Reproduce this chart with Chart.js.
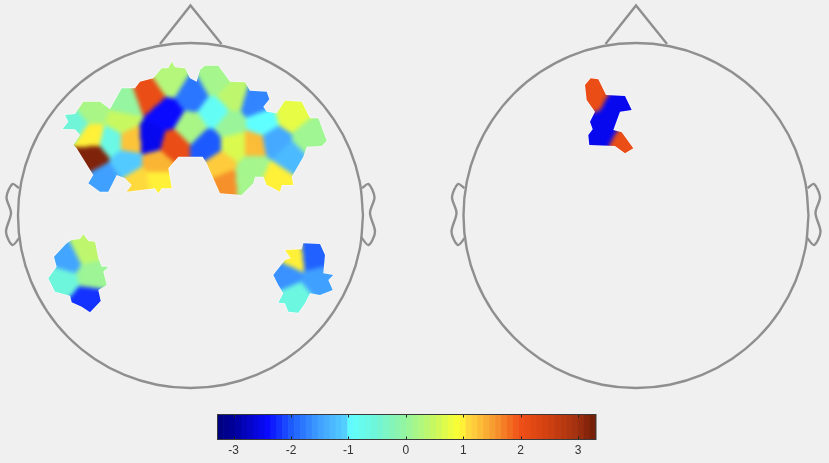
<!DOCTYPE html>
<html>
<head>
<meta charset="utf-8">
<style>
  html, body { margin: 0; padding: 0; background: #f0f0f0; overflow: hidden; }
  canvas { position: absolute; }
</style>
<script src="https://cdn.jsdelivr.net/npm/chart.js@4/dist/chart.umd.min.js"></script>
</head>
<body>
<canvas id="leftHead" width="414" height="410" style="left:0;top:0"></canvas>
<canvas id="rightHead" width="415" height="410" style="left:414px;top:0"></canvas>
<canvas id="colorbar" width="420" height="58" style="left:197px;top:405px"></canvas>
<script>
// head units: origin at head centre, up is positive, head radius is 172.5
const leftCellX = [-20.5, -42, -25.5, -40.5, 1, 24.5, 41, 64.5, 24.5, 101, 119.5, 71, 83, 98, 86, 63, 39.5, -0.5, 16, -17, -34, 44.5, 63, 29.5, 36, 54.5, -99, -65.5, -114, -69, -100.5, -60.5, -79, -99, -64, -87, -52, -34, -122, -105.5, -127, -100.5, -104, 103, 121, 96, 126, 106];
const leftCellY = [135.5, 120.5, 102, 77, 122, 135.5, 119, 112, 104, 102, 79, 94, 74, 57, 39, 49, 92, 87, 70.5, 70.5, 52, 70.5, 70.5, 50.5, 34, 35.5, 104, 112, 90.5, 94, 80.5, 75.5, 75.5, 59, 54, 37, 34, 37, -44.5, -36, -64.5, -58, -84.5, -43, -41, -58, -64.5, -81];
const leftCellValues = [0.3, 2.1, -2.4, -2.5, -1.8, 0.15, 0.4, -1.7, -0.85, 0.75, 0.1, -0.95, -1.4, -1.25, 1, 0.15, 0.05, 0.2, -2, 2.1, 1.35, 0.65, 1.3, 1.2, 1.6, 0.15, 0.2, 0, -0.5, 0.5, 1, 1.25, -0.65, 3.2, -1.1, -1.5, 1.1, 1, -1.45, 0.4, -0.55, 0.08, -2.2, 1, -1.95, -1.6, -1.5, -0.6];

const rightCellX = [-42, -38.7, -13, -9, -16, -27.7, -34.3, -24.3, -40, -30];
const rightCellY = [127, 114.8, 77, 70, 110.5, 108.8, 95.5, 95.5, 80, 86];
const rightCellValues = [2.1, 2.1, 2.1, 2.1, -2.5, -2.5, -2.5, -2.5, -2.5, -2.5];

// outlines of the significant regions
const frontalMaskX = [-18.8, -15.5, -5.5, -0.5, 6.2, 9.5, 14.5, 27.8, 39.5, 54.5, 59.5, 76.2, 78.8, 72.8, 76.2, 86.2, 94.5, 111.2, 119.5, 127.8, 136.2, 131.2, 116.2, 112.8, 101.2, 102.8, 91.2, 89.5, 81.2, 76.2, 72.8, 64.5, 62.8, 52.8, 51.2, 29.5, 16.2, 12.2, -12.2, -22.2, -18.8, -28.8, -32.2, -35.5, -63.8, -58.8, -65.5, -73.8, -82.2, -90.5, -102.2, -97.2, -113.8, -117.2, -110.5, -115.5, -127.8, -122.2, -125.5, -115.5, -107.2, -90.5, -80.5, -68.8, -55.5, -50.5, -37.2, -28.8, -22.2];
const frontalMaskY = [153.8, 148.2, 147.2, 137.2, 133.8, 145.5, 149.8, 149.8, 133.8, 133.2, 124.8, 123.8, 116.2, 108.8, 103.8, 102.2, 114.8, 113.8, 97.2, 97.2, 74.8, 69.5, 68.8, 58.8, 38.8, 30.5, 30.5, 23.8, 28.2, 30.5, 38.8, 38.8, 32.2, 22.2, 20.5, 22.2, 52.2, 58.8, 58.8, 47.2, 27.2, 27.2, 22.2, 27.2, 23.8, 30.5, 37.2, 40.5, 23.8, 23.8, 32.2, 40.5, 67.2, 70.5, 80.5, 86.2, 86.5, 93.8, 100.5, 101.5, 113.8, 113.8, 106.2, 127.2, 127.2, 133.8, 137.2, 147.2, 147.2];
const lowerLeftMaskX = [-107.2, -102.2, -95.5, -92.2, -88.8, -82.2, -87.2, -83.8, -92.2, -89.8, -100.5, -108.8, -118.8, -120.5, -135.5, -142.2, -133.8, -136.5, -123.8, -118.8, -110.5];
const lowerLeftMaskY = [-18.8, -25.5, -26.2, -42.8, -51.2, -51.2, -56.2, -69.5, -74.5, -85.5, -96.8, -91.2, -86.8, -80.2, -76.2, -62.8, -51.2, -41.2, -27.8, -24.5, -23.5];
const lowerRightMaskX = [112.8, 129.5, 134.5, 132.8, 142.8, 137.8, 142.2, 129.5, 119.5, 114.5, 107.8, 97.8, 94.5, 87.8, 92.8, 87.8, 82.8, 94.5, 100.2, 94.5, 111.2];
const lowerRightMaskY = [-27.8, -28.5, -39.5, -57.8, -59.5, -64.5, -74.5, -79.5, -77.8, -87.8, -97.2, -96.2, -87.8, -87.2, -77.8, -69.5, -59.5, -44.5, -42.8, -34.5, -33.8];
const rightMaskX = [-45.3, -37.7, -30, -11, -4.3, -16, -22.7, -14.3, -2.7, -11, -21, -46.7, -47.7, -43.3, -46, -41, -49.3, -51];
const rightMaskY = [137.2, 136.2, 120.5, 119.5, 105.5, 103.8, 85.5, 83.2, 67.2, 62.2, 69.5, 70.5, 80.5, 86.2, 93.8, 103.8, 115.5, 130.5];

const circleX = [172.5, 169.2, 159.4, 143.4, 122, 95.8, 66, 33.7, 0, -33.7, -66, -95.8, -122, -143.4, -159.4, -169.2, -172.5, -169.2, -159.4, -143.4, -122, -95.8, -66, -33.7, 0, 33.7, 66, 95.8, 122, 143.4, 159.4, 169.2, 172.5];
const circleY = [0, 33.7, 66, 95.8, 122, 143.4, 159.4, 169.2, 172.5, 169.2, 159.4, 143.4, 122, 95.8, 66, 33.7, 0, -33.7, -66, -95.8, -122, -143.4, -159.4, -169.2, -172.5, -169.2, -159.4, -143.4, -122, -95.8, -66, -33.7, 0];
const noseX = [-30.5, 0, 31];
const noseY = [171.5, 210, 171.5];
const leftEarX = [-171.5, -178, -184, -179.5, -184.5, -178, -170.5];
const rightEarX = [171.5, 178, 184, 179.5, 184.5, 178, 170.5];
const earY = [27.5, 31.5, 18.5, 2.5, -16.5, -29.5, -21.5];

const colorbarBins = [-3.228, -3.125, -3.022, -2.919, -2.816, -2.713, -2.61, -2.507, -2.404, -2.301, -2.198, -2.095, -1.992, -1.889, -1.786, -1.683, -1.58, -1.477, -1.374, -1.271, -1.168, -1.065, -0.962, -0.859, -0.756, -0.653, -0.55, -0.447, -0.344, -0.241, -0.138, -0.035, 0.068, 0.171, 0.274, 0.377, 0.48, 0.583, 0.686, 0.789, 0.892, 0.995, 1.098, 1.201, 1.304, 1.407, 1.51, 1.613, 1.716, 1.819, 1.922, 2.025, 2.128, 2.231, 2.334, 2.437, 2.54, 2.643, 2.746, 2.849, 2.952, 3.055, 3.158, 3.261];
const colorbarTicks = [-3, -2, -1, 0, 1, 2, 3];

// washed out jet, stops
const stopValues = [-3.3, -3, -2.4, -2, -1.5, -1.05, -0.95, -0.5, 0, 0.5, 0.95, 1.05, 1.5, 2, 2.5, 3, 3.3];
const stopColors = [[0, 0, 124], [0, 0, 152], [10, 10, 255], [28, 90, 255], [64, 160, 255], [85, 207, 255], [96, 255, 255], [112, 245, 216], [149, 245, 160], [200, 248, 96], [255, 255, 48], [255, 224, 64], [248, 160, 48], [240, 80, 24], [208, 64, 16], [160, 48, 16], [112, 28, 8]];

const GREY = '#8f8f8f';

function valueRgb(v) {
    let i = 0;
    while (i < stopValues.length - 2 && v > stopValues[i + 1]) i++;
    const t = Math.min(Math.max((v - stopValues[i]) / (stopValues[i + 1] - stopValues[i]), 0), 1);
    return stopColors[i].map((a, k) => Math.round(a + (stopColors[i + 1][k] - a) * t));
}

function valueColor(v) {
    const c = valueRgb(v);
    return `rgb(${c[0]}, ${c[1]}, ${c[2]})`;
}

// every pixel takes the nearest cell, soft between cells, hard edge around the mask
function cellFill(values, masks, blur) {
    const colors = values.map(valueRgb);
    return {
        id: 'cellFill',
        beforeDatasetDraw(chart, args) {
            if (args.index !== 0) return;
            const pts = chart.getDatasetMeta(0).data;
            const w = chart.width, h = chart.height;
            const off = document.createElement('canvas');
            off.width = w;
            off.height = h;
            const octx = off.getContext('2d');
            const img = octx.createImageData(w, h);
            for (let y = 0; y < h; y++) {
                for (let x = 0; x < w; x++) {
                    let best = 0, bestD = Infinity;
                    pts.forEach((p, i) => {
                        const d = (p.x - x) * (p.x - x) + (p.y - y) * (p.y - y);
                        if (d < bestD) { bestD = d; best = i; }
                    });
                    const o = (y * w + x) * 4;
                    img.data[o] = colors[best][0];
                    img.data[o + 1] = colors[best][1];
                    img.data[o + 2] = colors[best][2];
                    img.data[o + 3] = 255;
                }
            }
            octx.putImageData(img, 0, 0);
            const ctx = chart.ctx;
            ctx.save();
            ctx.beginPath();
            masks.forEach(m => {
                m.x.forEach((mx, i) => {
                    const px = chart.scales.x.getPixelForValue(mx);
                    const py = chart.scales.y.getPixelForValue(m.y[i]);
                    if (i === 0) ctx.moveTo(px, py);
                    else ctx.lineTo(px, py);
                });
                ctx.closePath();
            });
            ctx.strokeStyle = 'rgba(255, 255, 255, 0.5)';
            ctx.lineWidth = 1.5;
            ctx.stroke();
            ctx.clip();
            ctx.filter = 'blur(' + blur + 'px)';
            ctx.drawImage(off, 0, 0);
            ctx.restore();
            return false;
        }
    };
}

function outline(xs, ys, tension) {
    return {
        type: 'line',
        data: xs.map((x, i) => ({ x: x, y: ys[i] })),
        borderColor: GREY,
        borderWidth: 2.4,
        pointRadius: 0,
        tension: tension,
        fill: false,
        clip: false
    };
}

function drawHead(id, xs, ys, values, masks, xMin, xMax) {
    new Chart(document.getElementById(id), {
        type: 'scatter',
        data: {
            datasets: [
                {
                    data: xs.map((x, i) => ({ x: x, y: ys[i] })),
                    backgroundColor: values.map(valueColor),
                    clip: false
                },
                outline(circleX, circleY, 0.4),
                outline(noseX, noseY, 0),
                outline(leftEarX, earY, 0.3),
                outline(rightEarX, earY, 0.3)
            ]
        },
        options: {
            responsive: false,
            animation: false,
            layout: { padding: 0, autoPadding: false },
            plugins: { legend: { display: false }, tooltip: { enabled: false } },
            scales: {
                x: { type: 'linear', display: false, min: xMin, max: xMax },
                y: { type: 'linear', display: false, min: -194.5, max: 215.5 }
            }
        },
        plugins: [cellFill(values, masks, 2.2)]
    });
}

drawHead('leftHead', leftCellX, leftCellY, leftCellValues, [
    { x: frontalMaskX, y: frontalMaskY },
    { x: lowerLeftMaskX, y: lowerLeftMaskY },
    { x: lowerRightMaskX, y: lowerRightMaskY }
], -190.5, 223.5);
drawHead('rightHead', rightCellX, rightCellY, rightCellValues, [
    { x: rightMaskX, y: rightMaskY }
], -222, 193);

const colorbarFrame = {
    id: 'colorbarFrame',
    afterDatasetsDraw(chart) {
        const { ctx, chartArea: a, scales } = chart;
        ctx.save();
        ctx.strokeStyle = '#262626';
        ctx.lineWidth = 1;
        colorbarTicks.forEach(t => {
            const x = Math.round(scales.x.getPixelForValue(t)) + 0.5;
            ctx.beginPath();
            ctx.moveTo(x, a.top);
            ctx.lineTo(x, a.top + 3);
            ctx.moveTo(x, a.bottom - 3);
            ctx.lineTo(x, a.bottom);
            ctx.stroke();
        });
        ctx.strokeStyle = '#3a3a3a';
        ctx.strokeRect(a.left, a.top, a.right - a.left, a.bottom - a.top);
        ctx.restore();
    }
};

new Chart(document.getElementById('colorbar'), {
    type: 'bar',
    data: {
        datasets: [{
            data: colorbarBins.map(v => ({ x: v, y: 1 })),
            backgroundColor: colorbarBins.map(valueColor),
            barPercentage: 1,
            categoryPercentage: 1
        }]
    },
    options: {
        responsive: false,
        animation: false,
        layout: { padding: { left: 20.5, right: 21, top: 9.5, bottom: 0 }, autoPadding: false },
        plugins: { legend: { display: false }, tooltip: { enabled: false } },
        scales: {
            x: {
                type: 'linear',
                min: -3.2795,
                max: 3.3125,
                offset: false,
                grid: { display: false, drawTicks: false },
                border: { display: false },
                afterBuildTicks: scale => { scale.ticks = colorbarTicks.map(v => ({ value: v })); },
                afterFit: scale => { scale.height = 23.5; },
                ticks: {
                    autoSkip: false,
                    maxRotation: 0,
                    padding: 4,
                    color: '#333333',
                    font: { family: '"Liberation Sans", Arial, sans-serif', size: 12 }
                }
            },
            y: { display: false, min: 0, max: 1 }
        }
    },
    plugins: [colorbarFrame]
});
</script>
</body>
</html>
